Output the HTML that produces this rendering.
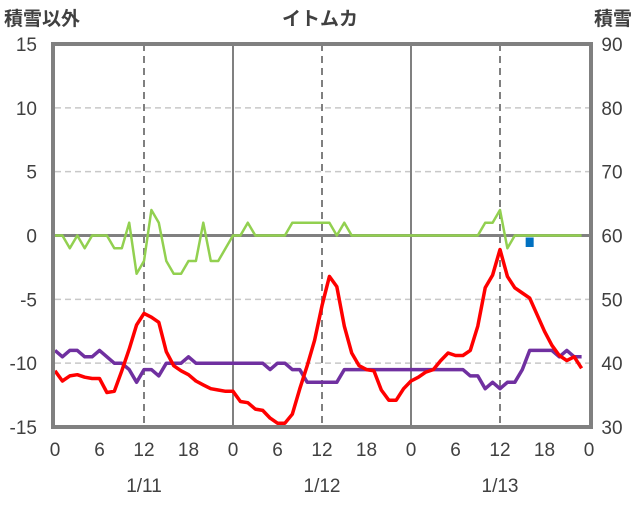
<!DOCTYPE html>
<html><head><meta charset="utf-8"><style>
body{margin:0;background:#fff}
svg text{font-family:"Liberation Sans","Noto Sans CJK JP",sans-serif;fill:#404040}
</style></head><body>
<svg id="c" width="636" height="501" xmlns="http://www.w3.org/2000/svg"></svg>
<script>
const leftTicks=[15,10,5,0,-5,-10,-15];
const rightTicks=[90,80,70,60,50,40,30];
const xTickLabels=["0","6","12","18","0","6","12","18","0","6","12","18","0"];
const dateLabels=["1/11","1/12","1/13"];
const redValues=[-10.6,-11.4,-11.0,-10.9,-11.1,-11.2,-11.2,-12.3,-12.2,-10.6,-8.9,-7.0,-6.1,-6.4,-6.8,-9.1,-10.2,-10.6,-10.9,-11.4,-11.7,-12.0,-12.1,-12.2,-12.2,-13.0,-13.1,-13.6,-13.7,-14.3,-14.7,-14.7,-14.0,-12.0,-10.2,-8.2,-5.5,-3.2,-4.0,-7.1,-9.2,-10.2,-10.5,-10.6,-12.1,-12.9,-12.9,-12.0,-11.4,-11.1,-10.7,-10.5,-9.8,-9.2,-9.4,-9.4,-9.0,-7.1,-4.1,-3.1,-1.1,-3.2,-4.1,-4.5,-4.9,-6.2,-7.5,-8.6,-9.4,-9.8,-9.5,-10.4];
const greenValues=[0,0,-1,0,-1,0,0,0,-1,-1,1,-3,-2,2,1,-2,-3,-3,-2,-2,1,-2,-2,-1,0,0,1,0,0,0,0,0,1,1,1,1,1,1,0,1,0,0,0,0,0,0,0,0,0,0,0,0,0,0,0,0,0,0,1,1,2,-1,0,0,0,0,0,0,0,0,0,0];
const snowValues=[42,41,42,42,41,41,42,41,40,40,39,37,39,39,38,40,40,40,41,40,40,40,40,40,40,40,40,40,40,39,40,40,39,39,37,37,37,37,37,39,39,39,39,39,39,39,39,39,39,39,39,39,39,39,39,39,38,38,36,37,36,37,37,39,42,42,42,42,41,42,41,41];
const blueHour=[64];
const blueValues=[-0.9];

const NS="http://www.w3.org/2000/svg";
const svg=document.getElementById('c');
const X0=55,X1=589,Y0=44,Y1=427;
const xs=h=>X0+(X1-X0)*h/72;
const yl=v=>Y1-(v+15)/30*(Y1-Y0);
const yr=v=>Y1-(v-30)/60*(Y1-Y0);
function mk(t,a,txt){const e=document.createElementNS(NS,t);for(const k in a)e.setAttribute(k,a[k]);if(txt!==undefined)e.textContent=txt;svg.appendChild(e);return e;}

// horizontal grid
leftTicks.forEach(v=>{
  if(v===15||v===-15)return;
  const g=mk('line',{x1:X0,x2:X1,y1:yl(v),y2:yl(v),stroke:v===0?'#808080':'#c8c8c8','stroke-width':v===0?3:1.5,'stroke-dasharray':v===0?'':'6,4'});
  
  
});
// vertical grid
[12,24,36,48,60].forEach(h=>{
  const g=mk('line',{x1:xs(h),x2:xs(h),y1:Y0,y2:Y1,stroke:'#808080','stroke-width':2,'stroke-dasharray':h%24===0?'':'7,5'});
  
  
});
function line(vals,fy,color,w,name){
  const p=vals.map((v,i)=>(i?'L':'M')+xs(i).toFixed(1)+','+fy(v).toFixed(1)).join('');
  const e=mk('path',{d:p,fill:'none',stroke:color,'stroke-width':w,'stroke-linejoin':'round'});
  
  
}
line(greenValues,yl,'#92d050',2.5,'green-series');
line(snowValues,yr,'#7030a0',3.5,'snow-depth-series');
line(redValues,yl,'#ff0000',3.5,'temperature-series');
blueHour.forEach((h,i)=>{
  const r=mk('rect',{x:xs(h)-4,y:yl(0)+2,width:8,height:yl(blueValues[i])-yl(0)-2,fill:'#0070c0'});
  
  
});
// frame
const f=mk('rect',{x:X0-2,y:Y0,width:X1-X0+4,height:Y1-Y0,fill:'none',stroke:'#808080','stroke-width':4});


// axis labels
leftTicks.forEach(v=>{
  const t=mk('text',{x:37,y:yl(v)+7,'text-anchor':'end','font-size':19},String(v));
  
  
});
rightTicks.forEach(v=>{
  const t=mk('text',{x:612,y:yr(v)+7,'text-anchor':'middle','font-size':19},String(v));
  
  
});
xTickLabels.forEach((s,i)=>{
  const t=mk('text',{x:xs(i*6),y:456,'text-anchor':'middle','font-size':19},s);
  
  
});
dateLabels.forEach((s,i)=>{
  const t=mk('text',{x:xs(12+24*i),y:492,'text-anchor':'middle','font-size':19},s);
  
  
});
let t=mk('text',{x:320,y:25,'text-anchor':'middle','font-size':19,'font-weight':'bold'},'イトムカ');

t=mk('text',{x:4,y:25,'font-size':19,'font-weight':'bold'},'積雪以外');

t=mk('text',{x:632,y:25,'text-anchor':'end','font-size':19,'font-weight':'bold'},'積雪');

</script>
</body></html>
